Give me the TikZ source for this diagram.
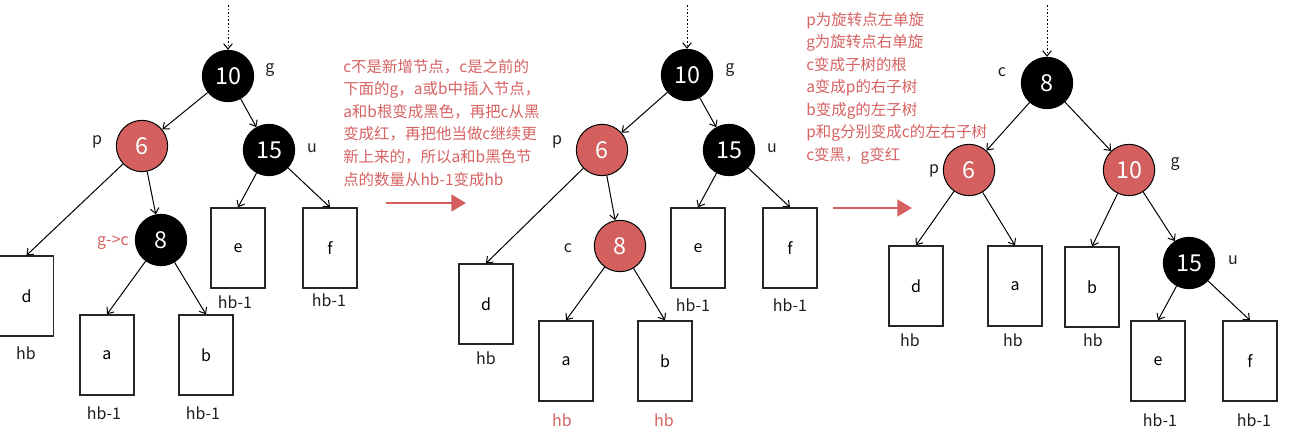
\documentclass[tikz,border=0pt]{standalone}
\usepackage{fontspec}
\setmainfont{Noto Sans CJK SC}
\usetikzlibrary{arrows.meta}
\definecolor{rbred}{RGB}{211,95,95}
\definecolor{txtred}{RGB}{214,98,98}
\definecolor{lblgray}{RGB}{30,30,30}
\begin{document}
\begin{tikzpicture}[x=0.75pt,y=-0.75pt,
  blk/.style={circle,draw=black,fill=black,text=white,minimum size=38.5pt,inner sep=0pt,line width=0.75pt,font=\fontsize{17.5}{20}\selectfont},
  rednode/.style={circle,draw=black,fill=rbred,text=white,minimum size=38.5pt,inner sep=0pt,line width=0.75pt,font=\fontsize{17.5}{20}\selectfont},
  leaf/.style={draw=black!85,fill=white,minimum width=40.5pt,minimum height=60pt,inner sep=0pt,line width=1pt,font=\fontsize{12}{14}\selectfont},
  lbl/.style={inner sep=0pt,text=lblgray,font=\fontsize{12}{14}\selectfont},
  redlbl/.style={inner sep=0pt,text=txtred,font=\fontsize{12}{14}\selectfont},
  edge/.style={-{Straight Barb[length=4pt,width=6.5pt]},line width=0.75pt},
  dotarr/.style={-{Straight Barb[length=4pt,width=6.5pt]},line width=0.75pt,dash pattern=on 1.2pt off 1.5pt},
  bigarr/.style={-{Triangle[length=11pt,width=12.5pt]},line width=2pt,draw=rbred},
  note/.style={inner sep=0pt,anchor=north west,align=left,text=txtred,font=\fontsize{11.6}{16.9}\selectfont}
]
\useasboundingbox (0,0) rectangle (1289,447);

% ---------- panel 1 ----------
\coordinate (t1) at (228,5);
\node[blk] (g1) at (228,76) {10};
\node[rednode] (p1) at (142,146) {6};
\node[blk] (u1) at (269,150) {15};
\node[blk] (c1) at (161,240) {8};
\node[leaf] (d1) at (26.5,296) {d};
\node[leaf] (a1) at (107,355) {a};
\node[leaf] (b1) at (206,355) {b};
\node[leaf] (e1) at (238,248) {e};
\node[leaf] (f1) at (330,248) {f};
\node[lbl] (lg1) at (270,70) {g};
\node[lbl] (lp1) at (97,142) {p};
\node[lbl] (lu1) at (312,148) {u};
\node[redlbl] (lc1) at (113,243) {g->c};
\node[lbl] (hd1) at (26,353) {hb};
\node[lbl] (ha1) at (104,413) {hb-1};
\node[lbl] (hb1) at (203,413) {hb-1};
\node[lbl] (he1) at (235,302) {hb-1};
\node[lbl] (hf1) at (329,300) {hb-1};
\draw[dotarr] (t1) -- (g1);
\draw[edge] (g1) -- (p1);
\draw[edge] (g1) -- (u1);
\draw[edge] (p1) -- (d1.north);
\draw[edge] (p1) -- (c1);
\draw[edge] (c1) -- (a1.north);
\draw[edge] (c1) -- (b1.north);
\draw[edge] (u1) -- (e1.north);
\draw[edge] (u1) -- (f1.north);

\node[note] (n1) at (343,59) {c不是新增节点，c是之前的\\下面的g，a或b中插入节点，\\a和b根变成黑色，再把c从黑\\变成红，再把他当做c继续更\\新上来的，所以a和b黑色节\\点的数量从hb-1变成hb};
\coordinate (r1s) at (386,203);
\coordinate (r1e) at (466,203);
\draw[bigarr] (r1s) -- (r1e);

% ---------- panel 2 ----------
\coordinate (t2) at (687,5);
\node[blk] (g2) at (687,75) {10};
\node[rednode] (p2) at (602,150) {6};
\node[blk] (u2) at (729,150) {15};
\node[rednode] (c2) at (620,246) {8};
\node[leaf] (d2) at (486,304) {d};
\node[leaf] (a2) at (566,361) {a};
\node[leaf] (b2) at (665,361) {b};
\node[leaf] (e2) at (698,248) {e};
\node[leaf] (f2) at (790,248) {f};
\node[lbl] (lg2) at (730,70) {g};
\node[lbl] (lp2) at (557,142) {p};
\node[lbl] (lu2) at (772,148) {u};
\node[lbl] (lc2) at (568,248) {c};
\node[lbl] (hd2) at (486,358) {hb};
\node[redlbl] (ha2) at (562,420) {hb};
\node[redlbl] (hb2) at (664,420) {hb};
\node[lbl] (he2) at (693,305) {hb-1};
\node[lbl] (hf2) at (790,305) {hb-1};
\draw[dotarr] (t2) -- (g2);
\draw[edge] (g2) -- (p2);
\draw[edge] (g2) -- (u2);
\draw[edge] (p2) -- (d2.north);
\draw[edge] (p2) -- (c2);
\draw[edge] (c2) -- (a2.north);
\draw[edge] (c2) -- (b2.north);
\draw[edge] (u2) -- (e2.north);
\draw[edge] (u2) -- (f2.north);

\node[note] (n2) at (806,12) {p为旋转点左单旋\\g为旋转点右单旋\\c变成子树的根\\a变成p的右子树\\b变成g的左子树\\p和g分别变成c的左右子树\\c变黑，g变红};
\coordinate (r2s) at (833,208);
\coordinate (r2e) at (912,208);
\draw[bigarr] (r2s) -- (r2e);

% ---------- panel 3 ----------
\coordinate (t3) at (1047,5);
\node[blk] (c3) at (1047,83) {8};
\node[rednode] (p3) at (969,170) {6};
\node[rednode] (g3) at (1129,170) {10};
\node[blk] (u3) at (1189,263) {15};
\node[leaf] (d3) at (916,286) {d};
\node[leaf] (a3) at (1015,286) {a};
\node[leaf] (b3) at (1092,287) {b};
\node[leaf] (e3) at (1158,361) {e};
\node[leaf] (f3) at (1250,361) {f};
\node[lbl] (lc3) at (1002,72) {c};
\node[lbl] (lp3) at (934,171) {p};
\node[lbl] (lg3) at (1175,164) {g};
\node[lbl] (lu3) at (1233,260) {u};
\node[lbl] (hd3) at (910,340) {hb};
\node[lbl] (ha3) at (1013,340) {hb};
\node[lbl] (hb3) at (1093,340) {hb};
\node[lbl] (he3) at (1160,420) {hb-1};
\node[lbl] (hf3) at (1254,420) {hb-1};
\draw[dotarr] (t3) -- (c3);
\draw[edge] (c3) -- (p3);
\draw[edge] (c3) -- (g3);
\draw[edge] (p3) -- (d3.north);
\draw[edge] (p3) -- (a3.north);
\draw[edge] (g3) -- (b3.north);
\draw[edge] (g3) -- (u3);
\draw[edge] (u3) -- (e3.north);
\draw[edge] (u3) -- (f3.north);
\end{tikzpicture}
\end{document}
